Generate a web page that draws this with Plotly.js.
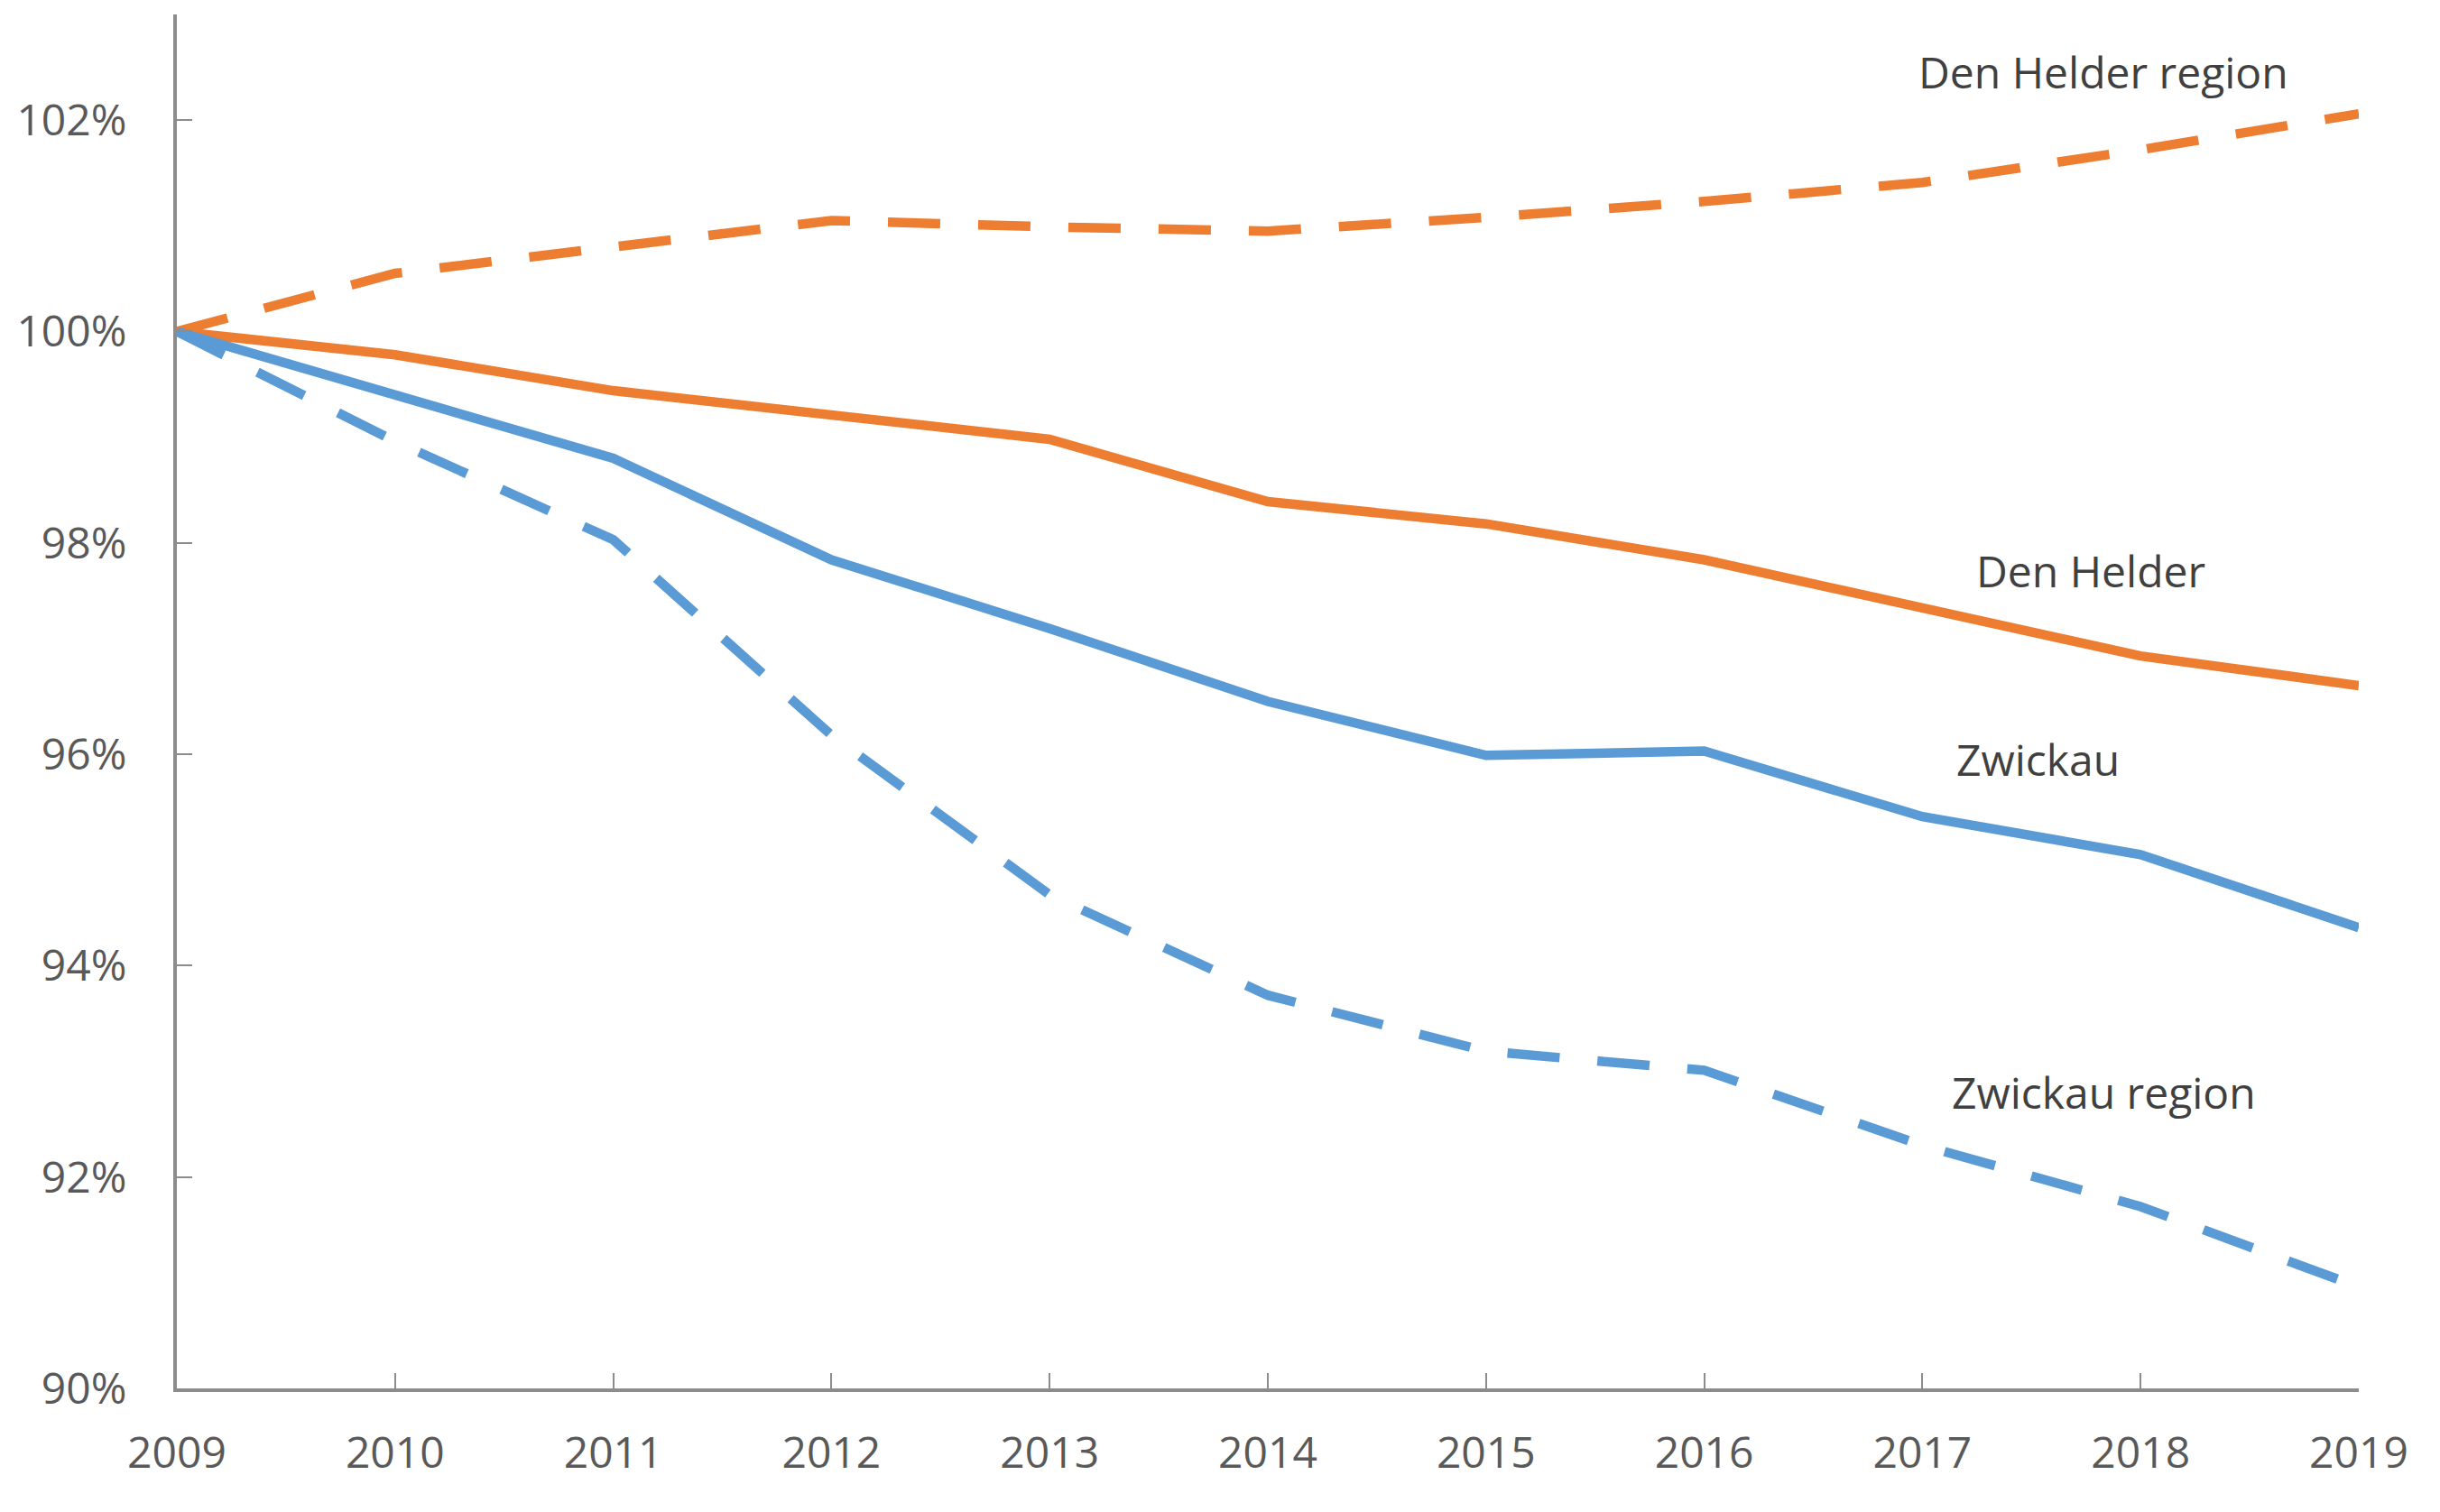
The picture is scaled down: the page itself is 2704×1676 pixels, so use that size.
<!DOCTYPE html>
<html>
<head>
<meta charset="utf-8">
<script src="https://cdn.plot.ly/plotly-3.0.1.min.js"></script>
<style>html,body{margin:0;padding:0;background:#fff;}#chart{width:2704px;height:1676px;}</style>
</head>
<body>
<div id="chart"></div>
<script>
const years = [2009, 2010, 2011, 2012, 2013, 2014, 2015, 2016, 2017, 2018, 2019];
const denHelder = [100, 99.78, 99.44, 99.21, 98.98, 98.39, 98.18, 97.84, 97.38, 96.93, 96.65];
const denHelderRegion = [100, 100.55, 100.8, 101.05, 100.99, 100.95, 101.08, 101.23, 101.41, 101.72, 102.06];
const zwickau = [100, 99.41, 98.8, 97.84, 97.19, 96.5, 95.99, 96.03, 95.41, 95.05, 94.36];
const zwickauRegion = [100, 98.96, 98.03, 96.18, 94.67, 93.72, 93.19, 93.01, 92.30, 91.72, 90.96];
const yTicks = [90, 92, 94, 96, 98, 100, 102];
const yTickLabels = ['90%', '92%', '94%', '96%', '98%', '100%', '102%'];

const orange = '#ED7D31', blue = '#5B9BD5';
const lw = 10.5;
const dash = '58px,42px';

const traces = [
  {x: years, y: denHelderRegion, name: 'Den Helder region', mode: 'lines', line: {color: orange, width: lw, dash: dash}},
  {x: years, y: denHelder, name: 'Den Helder', mode: 'lines', line: {color: orange, width: lw}},
  {x: years, y: zwickauRegion, name: 'Zwickau region', mode: 'lines', line: {color: blue, width: lw, dash: dash}},
  {x: years, y: zwickau, name: 'Zwickau', mode: 'lines', line: {color: blue, width: lw}}
];

const annFont = {family: 'Open Sans, sans-serif', size: 48, color: '#404040'};
const layout = {
  width: 2704, height: 1676,
  margin: {l: 196, r: 90, t: 16, b: 137},
  paper_bgcolor: '#fff', plot_bgcolor: '#fff',
  showlegend: false,
  xaxis: {
    range: [2009, 2019], tickvals: years, ticktext: years.map(String),
    showgrid: false, zeroline: false, showline: true, linecolor: '#8c8c8c', linewidth: 4,
    ticks: 'inside', ticklen: 17, tickwidth: 2, tickcolor: '#8c8c8c',
    ticklabelstandoff: 26,
    tickfont: {family: 'Open Sans, sans-serif', size: 48, color: '#595959'}
  },
  yaxis: {
    range: [90, 103], tickvals: yTicks, ticktext: yTickLabels,
    showgrid: false, zeroline: false, showline: true, linecolor: '#8c8c8c', linewidth: 4,
    ticks: 'inside', ticklen: 17, tickwidth: 2, tickcolor: '#8c8c8c',
    ticklabelstandoff: 42,
    tickfont: {family: 'Open Sans, sans-serif', size: 48, color: '#595959'}
  },
  annotations: [
    {x: 2017.83, y: 102.46, text: 'Den Helder region', showarrow: false, font: annFont},
    {x: 2017.77, y: 97.74, text: 'Den Helder', showarrow: false, font: annFont},
    {x: 2017.53, y: 95.95, text: 'Zwickau', showarrow: false, font: annFont},
    {x: 2017.83, y: 92.8, text: 'Zwickau region', showarrow: false, font: annFont}
  ]
};
Plotly.newPlot('chart', traces, layout, {displayModeBar: false, staticPlot: true});
</script>
</body>
</html>
